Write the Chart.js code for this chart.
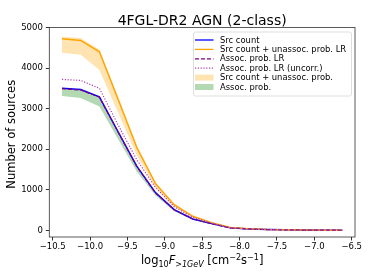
<!DOCTYPE html>
<html>
<head>
<meta charset="utf-8">
<script src="https://cdn.jsdelivr.net/npm/chart.js@4/dist/chart.umd.min.js"></script>
<style>
  html, body { margin: 0; padding: 0; background: #fff; }
  canvas { display: block; }
</style>
</head>
<body>
<canvas id="chart" width="374" height="280"></canvas>
<script>
// bin centres of log10 F>1GeV
const binCentres = [-10.375, -10.125, -9.875, -9.625, -9.375, -9.125, -8.875, -8.625,
                    -8.375, -8.125, -7.875, -7.625, -7.375, -7.125, -6.875, -6.625];

const srcCount     = [3500, 3470, 3290, 2430, 1580, 930, 510, 280, 165, 60, 34, 18, 12, 6, 4, 2];
const srcUnassocLR = [4720, 4680, 4400, 3230, 2040, 1150, 630, 345, 190, 68, 38, 20, 13, 7, 4, 2];
const assocLR      = [3490, 3460, 3280, 2420, 1570, 920, 505, 278, 163, 59, 33, 17, 11, 6, 3, 2];
const assocLRUncor = [3720, 3695, 3500, 2600, 1740, 1060, 580, 320, 180, 65, 36, 19, 12, 6, 4, 2];

// shaded bands (lower / upper edges)
const unassocLow  = [4380, 4330, 3950, 2900, 1850, 1050, 580, 320, 175, 64, 35, 19, 12, 6, 4, 2];
const unassocHigh = [4770, 4740, 4460, 3290, 2090, 1190, 655, 360, 195, 70, 39, 20, 13, 7, 4, 2];
const assocLow    = [3310, 3260, 3050, 2250, 1450, 860, 470, 260, 150, 55, 31, 16, 11, 5, 3, 2];
const assocHigh   = [3500, 3470, 3290, 2430, 1580, 930, 510, 280, 165, 60, 34, 18, 12, 6, 4, 2];

const xTicks = [-10.5, -10.0, -9.5, -9.0, -8.5, -8.0, -7.5, -7.0, -6.5];
const yTicks = [0, 1000, 2000, 3000, 4000, 5000];

const pts = arr => arr.map((v, i) => ({ x: binCentres[i], y: v }));
const FONT = 'DejaVu Sans';

const legendItems = [
  { label: 'Src count', type: 'line', color: '#0000ff', dash: [] },
  { label: 'Src count + unassoc. prob. LR', type: 'line', color: '#ffa500', dash: [] },
  { label: 'Assoc. prob. LR', type: 'line', color: '#800080', dash: [4, 2] },
  { label: 'Assoc. prob. LR (uncorr.)', type: 'line', color: '#b040b0', dash: [1.2, 1.6] },
  { label: 'Src count + unassoc. prob.', type: 'patch', color: 'rgba(255,165,0,0.3)' },
  { label: 'Assoc. prob.', type: 'patch', color: 'rgba(0,128,0,0.3)' }
];

const decorations = {
  id: 'decorations',
  afterDraw(chart) {
    const ctx = chart.ctx;
    const a = chart.chartArea;
    ctx.save();

    // axes frame
    ctx.strokeStyle = '#333';
    ctx.lineWidth = 0.8;
    ctx.strokeRect(a.left, a.top, a.right - a.left, a.bottom - a.top);

    // title
    ctx.fillStyle = '#000';
    ctx.font = '14px ' + FONT;
    ctx.textAlign = 'center';
    ctx.textBaseline = 'alphabetic';
    ctx.fillText('4FGL-DR2 AGN (2-class)', (a.left + a.right) / 2, 24.5);

    // y title
    ctx.save();
    ctx.translate(14.5, (a.top + a.bottom) / 2 + 2);
    ctx.rotate(-Math.PI / 2);
    ctx.font = '11.5px ' + FONT;
    ctx.fillText('Number of sources', 0, 0);
    ctx.restore();

    // x title with sub/superscripts
    const parts = [
      { t: 'log', f: '11.5px ' + FONT, dy: 0 },
      { t: '10', f: '8px ' + FONT, dy: 2.5 },
      { t: 'F', f: 'italic 11.5px ' + FONT, dy: 0 },
      { t: '>1GeV', f: 'italic 8px ' + FONT, dy: 2.5 },
      { t: ' [cm', f: '11.5px ' + FONT, dy: 0 },
      { t: '\u22122', f: '8px ' + FONT, dy: -4.5 },
      { t: 's', f: '11.5px ' + FONT, dy: 0 },
      { t: '\u22121', f: '8px ' + FONT, dy: -4.5 },
      { t: ']', f: '11.5px ' + FONT, dy: 0 }
    ];
    let total = 0;
    parts.forEach(p => { ctx.font = p.f; p.w = ctx.measureText(p.t).width; total += p.w; });
    let x = (a.left + a.right) / 2 - total / 2;
    ctx.textAlign = 'left';
    parts.forEach(p => { ctx.font = p.f; ctx.fillText(p.t, x, 264 + p.dy); x += p.w; });

    // legend
    const bx = 193.5, by = 32, bw = 158, bh = 64;
    ctx.beginPath();
    ctx.roundRect(bx, by, bw, bh, 2);
    ctx.fillStyle = 'rgba(255,255,255,0.8)';
    ctx.fill();
    ctx.strokeStyle = '#d6d6d6';
    ctx.lineWidth = 0.8;
    ctx.stroke();
    ctx.font = '8.4px ' + FONT;
    ctx.textBaseline = 'middle';
    legendItems.forEach((it, i) => {
      const y = 40 + i * 9.4;
      if (it.type === 'line') {
        ctx.beginPath();
        ctx.setLineDash(it.dash);
        ctx.strokeStyle = it.color;
        ctx.lineWidth = 1.3;
        ctx.moveTo(195, y);
        ctx.lineTo(213.5, y);
        ctx.stroke();
        ctx.setLineDash([]);
      } else {
        ctx.fillStyle = it.color;
        ctx.fillRect(195, y - 3, 18.5, 6);
      }
      ctx.fillStyle = '#000';
      ctx.fillText(it.label, 220, y + 0.5);
    });
    ctx.restore();
  }
};

const lineDs = (data, color, width, dash, order) => ({
  data: pts(data), borderColor: color, borderWidth: width, borderDash: dash,
  pointRadius: 0, tension: 0, fill: false, order: order
});

new Chart(document.getElementById('chart'), {
  type: 'line',
  data: {
    datasets: [
      { data: pts(unassocLow), borderWidth: 0, pointRadius: 0, fill: false, order: 10 },
      { data: pts(unassocHigh), borderWidth: 0, pointRadius: 0, fill: { target: 0 },
        backgroundColor: 'rgba(255,165,0,0.3)', order: 10 },
      { data: pts(assocLow), borderWidth: 0, pointRadius: 0, fill: false, order: 10 },
      { data: pts(assocHigh), borderWidth: 0, pointRadius: 0, fill: { target: 2 },
        backgroundColor: 'rgba(0,128,0,0.3)', order: 10 },
      lineDs(srcCount, '#0000ff', 1.5, [], 4),
      lineDs(srcUnassocLR, '#ffa500', 1.5, [], 3),
      lineDs(assocLR, '#800080', 1.2, [4, 2], 2),
      lineDs(assocLRUncor, '#b040b0', 1.2, [1.2, 1.6], 1)
    ]
  },
  options: {
    responsive: false,
    animation: false,
    devicePixelRatio: 1,
    layout: { padding: { top: 27.5, right: 19, left: 0, bottom: 0 } },
    plugins: { legend: { display: false }, tooltip: { enabled: false } },
    scales: {
      x: {
        type: 'linear', min: -10.545, max: -6.456,
        afterBuildTicks: s => { s.ticks = xTicks.map(v => ({ value: v })); },
        afterFit: s => { s.height = 43; },
        grid: { drawOnChartArea: false, drawTicks: true, tickLength: 3.5, color: '#000', lineWidth: 0.8 },
        border: { display: false },
        ticks: {
          color: '#000', padding: 1.5, maxRotation: 0, font: { family: FONT, size: 8.5 },
          callback: v => (v < 0 ? '\u2212' : '') + Math.abs(v).toFixed(1)
        }
      },
      y: {
        type: 'linear', min: -165, max: 5000,
        afterBuildTicks: s => { s.ticks = yTicks.map(v => ({ value: v })); },
        afterFit: s => { s.width = 49.3; },
        grid: { drawOnChartArea: false, drawTicks: true, tickLength: 3.5, color: '#000', lineWidth: 0.8 },
        border: { display: false },
        ticks: { color: '#000', padding: 3, font: { family: FONT, size: 8.5 }, callback: v => String(v) }
      }
    }
  },
  plugins: [decorations]
});
</script>
</body>
</html>
